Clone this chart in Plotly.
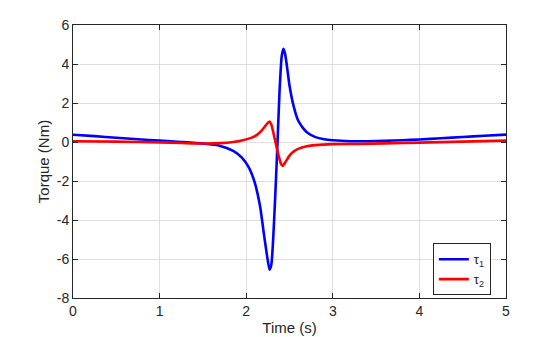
import plotly.graph_objects as go

# Joint torques of the two-link arm over the 5 s manoeuvre
t1 = [0.0, 0.25, 0.5, 0.75, 1.0, 1.25, 1.5, 1.7, 1.85, 1.95, 2.03, 2.1, 2.16,
      2.21, 2.25, 2.27, 2.29, 2.31, 2.335, 2.36, 2.385, 2.41, 2.43, 2.45, 2.47,
      2.5, 2.55, 2.6, 2.65, 2.7, 2.8, 2.9, 3.0, 3.2, 3.4, 3.6, 3.8, 4.0, 4.25,
      4.5, 4.75, 5.0]
tau1 = [0.37, 0.30, 0.22, 0.14, 0.07, 0.0, -0.08, -0.2, -0.45, -0.8, -1.3, -2.1,
        -3.3, -4.9, -6.1, -6.55, -6.3, -5.1, -2.8, -0.2, 2.6, 4.4, 4.78, 4.5, 3.9,
        2.9, 1.8, 1.1, 0.75, 0.5, 0.25, 0.14, 0.09, 0.04, 0.04, 0.06, 0.09, 0.13,
        0.19, 0.26, 0.32, 0.38]

t2 = [0.0, 0.5, 1.0, 1.25, 1.5, 1.7, 1.85, 1.95, 2.05, 2.12, 2.18, 2.22, 2.25,
      2.27, 2.29, 2.31, 2.33, 2.35, 2.38, 2.4, 2.42, 2.45, 2.5, 2.55, 2.6, 2.7,
      2.8, 3.0, 3.3, 3.6, 4.0, 4.5, 5.0]
tau2 = [0.04, 0.02, -0.02, -0.05, -0.08, -0.06, 0.0, 0.08, 0.2, 0.35, 0.6, 0.82,
        0.98, 1.05, 0.9, 0.55, 0.15, -0.25, -0.8, -1.1, -1.23, -1.05, -0.7, -0.48,
        -0.35, -0.22, -0.16, -0.11, -0.1, -0.07, -0.03, 0.02, 0.07]

x_ticks = [0, 1, 2, 3, 4, 5]
y_ticks = [-8, -6, -4, -2, 0, 2, 4, 6]

font_family = "Liberation Sans, Arial, Helvetica, sans-serif"
axis_color = "#262626"
grid_color = "#dfdfdf"

fig = go.Figure()
fig.add_trace(go.Scatter(x=t1, y=tau1, mode="lines", name="τ<sub>1</sub>",
                         line=dict(color="#0000ff", width=2.6, shape="spline", smoothing=0.6)))
fig.add_trace(go.Scatter(x=t2, y=tau2, mode="lines", name="τ<sub>2</sub>",
                         line=dict(color="#ff0000", width=2.6, shape="spline", smoothing=0.6)))

axis_common = dict(
    showline=True, mirror="ticks", linecolor=axis_color, linewidth=1,
    ticks="inside", ticklen=5, tickcolor=axis_color, tickwidth=1,
    showgrid=True, gridcolor=grid_color, gridwidth=1, zeroline=False,
    automargin=False,
    tickfont=dict(family=font_family, size=14, color=axis_color),
)

fig.update_layout(
    width=560, height=337,
    margin=dict(l=73, r=54, t=25, b=39, autoexpand=False),
    paper_bgcolor="white", plot_bgcolor="white",
    font=dict(family=font_family, color=axis_color),
    xaxis=dict(range=[0, 5], tickvals=x_ticks, ticktext=[str(v) for v in x_ticks],
               title=dict(text="Time (s)", font=dict(family=font_family, size=15, color=axis_color), standoff=4),
               **axis_common),
    yaxis=dict(range=[-8, 6], tickvals=y_ticks, ticktext=[str(v) for v in y_ticks],
               title=dict(text="Torque (Nm)", font=dict(family=font_family, size=15, color=axis_color), standoff=3),
               **axis_common),
    legend=dict(x=0.965, y=0.01, xanchor="right", yanchor="bottom",
                bgcolor="white", bordercolor=axis_color, borderwidth=1,
                font=dict(family=font_family, size=13, color=axis_color),
                itemwidth=30, tracegroupgap=0),
    showlegend=True,
)

fig.write_html("out.html")
